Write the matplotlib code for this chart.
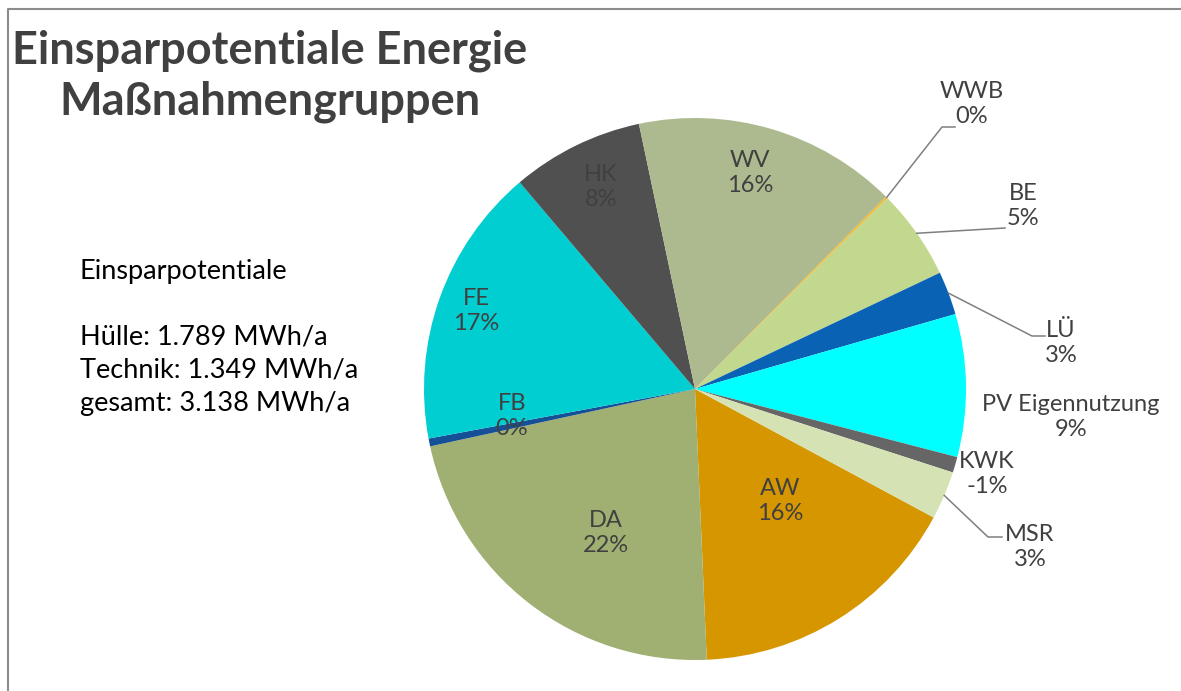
import matplotlib.pyplot as plt
import numpy as np

# Einsparpotentiale in MWh/a, Reihenfolge wie im Diagramm (im Uhrzeigersinn ab AW)
labels = ["AW", "DA", "FB", "FE", "HK", "WV", "WWB", "BE", "LÜ", "PV Eigennutzung", "KWK", "MSR"]
values = [526, 713, 15, 535, 252, 504, 4, 172, 83, 272, -30, 92]
colors = ["#D69600", "#A0B072", "#154F96", "#00CED1", "#505050", "#ADBA8F",
          "#F2B830", "#C3D88F", "#0A62B5", "#00FFFF", "#666666", "#D5E3B4"]

summary = "Einsparpotentiale\n\nHülle: 1.789 MWh/a\nTechnik: 1.349 MWh/a\ngesamt: 3.138 MWh/a"
title = "Einsparpotentiale Energie\nMaßnahmengruppen"

W, H = 1181, 691
txt = "#404040"

# label centres in pixel coords (x, y from top)
label_pos = {
    "AW": (780, 501), "DA": (606, 533), "FB": (512, 416), "FE": (476, 311),
    "HK": (601, 187), "WV": (750, 173), "WWB": (972, 104), "BE": (1023, 206),
    "LÜ": (1061, 343), "PV Eigennutzung": (1071, 417), "KWK": (987, 474),
    "MSR": (1030, 547),
}
# leader line ends (pixel coords) for the outside labels
leaders = {
    "WWB": [(942, 127), (955, 127)],
    "BE": [(1005, 228)],
    "LÜ": [(1032, 336), (1045, 336)],
    "MSR": [(988, 537), (1002, 537)],
}

plt.rcParams['font.family'] = ['Lato', 'DejaVu Sans']

fig = plt.figure(figsize=(W / 100, H / 100), dpi=100)
ax = fig.add_axes([0, 0, 1, 1])

cx, cy, r = 695, H - 389, 271
start = 118.3  # degrees clockwise from 12 o'clock where AW begins

sizes = np.abs(values)
wedges, _ = ax.pie(sizes, colors=colors, center=(cx, cy), radius=r,
                   startangle=90 - start, counterclock=False,
                   wedgeprops=dict(linewidth=0), frame=True)
ax.set_xlim(0, W)
ax.set_ylim(0, H)
ax.set_aspect('equal')
ax.axis('off')

total = sizes.sum()
for i, lab in enumerate(labels):
    pct = int(round(values[i] / total * 100))
    x, y = label_pos[lab]
    ax.text(x, H - y, f"{lab}\n{pct}%", ha='center', va='center',
            fontsize=17, color=txt, linespacing=1.27)
    if lab in leaders:
        w = wedges[i]
        mid = np.deg2rad((w.theta1 + w.theta2) / 2)
        pts = [(cx + r * np.cos(mid), cy + r * np.sin(mid))]
        pts += [(px, H - py) for px, py in leaders[lab]]
        xs, ys = zip(*pts)
        ax.plot(xs, ys, color="#7F7F7F", lw=1.1)

ax.text(270, H - 76, title, ha='center', va='center', fontsize=32.5,
        fontweight='bold', color=txt, linespacing=1.25)
ax.text(80, H - 337, summary, ha='left', va='center', fontsize=19.5,
        color='black', linespacing=1.4)

# chart border (only top/left visible in the crop)
ax.plot([8, 8, W], [0, H - 9, H - 9], color="#8C8C8C", lw=1.5)

fig.savefig("out.png", dpi=100, facecolor='white')
